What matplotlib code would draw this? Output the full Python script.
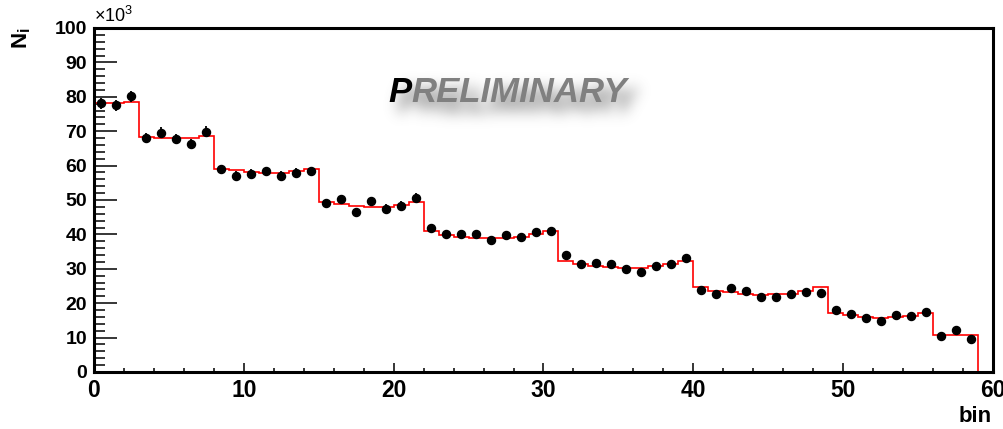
import numpy as np
import matplotlib
matplotlib.use("Agg")
import matplotlib.pyplot as plt
from matplotlib.ticker import MultipleLocator

plt.rcParams['font.family'] = ['Liberation Sans', 'DejaVu Sans']
plt.rcParams['mathtext.fontset'] = 'custom'
plt.rcParams['mathtext.rm'] = 'Liberation Sans'
plt.rcParams['mathtext.bf'] = 'Liberation Sans:bold'

# data points (in units of 10^3), one per bin
bin_centers = np.arange(0.5, 59, 1.0)
counts = [78.1, 77.5, 80.2,
          68.1, 69.6, 67.8, 66.2, 69.9,
          58.9, 57.1, 57.7, 58.4, 57.0, 57.9, 58.4,
          49.0, 50.2, 46.5, 49.8, 47.5, 48.4, 50.7,
          41.9, 40.0, 40.1, 40.1, 38.5, 39.7, 39.2, 40.6, 41.0,
          33.9, 31.5, 31.8, 31.4, 29.9, 29.0, 30.8, 31.4, 33.2,
          23.7, 22.8, 24.5, 23.6, 21.7, 21.9, 22.7, 23.4, 23.0,
          17.9, 16.8, 15.6, 14.8, 16.7, 16.3, 17.4,
          10.4, 12.2, 9.7]
errors = [1.6, 1.6, 1.6,
          1.5, 1.5, 1.5, 1.5, 1.5,
          1.3, 1.3, 1.3, 1.3, 1.3, 1.3, 1.3,
          1.2, 1.2, 1.2, 1.2, 1.2, 1.2, 1.2,
          1.0, 1.0, 1.0, 1.0, 1.0, 1.0, 1.0, 1.0, 1.0,
          0.8, 0.8, 0.8, 0.8, 0.8, 0.8, 0.8, 0.8, 0.8,
          0.7, 0.7, 0.7, 0.7, 0.7, 0.7, 0.7, 0.7, 0.7,
          0.6, 0.6, 0.6, 0.6, 0.6, 0.6, 0.6,
          0.5, 0.5, 0.5]

# fitted histogram (red)
bin_edges = np.arange(0, 60, 1)
fit = [78.2, 78.2, 78.5,
       68.4, 68.1, 68.0, 68.1, 68.6,
       59.1, 58.6, 58.1, 57.9, 57.9, 58.5, 59.1,
       49.5, 48.8, 48.4, 48.1, 48.1, 48.6, 49.5,
       41.0, 39.8, 39.3, 39.0, 38.9, 39.0, 39.3, 40.0, 41.0,
       32.3, 31.4, 30.8, 30.4, 30.2, 30.3, 30.9, 31.5, 32.3,
       24.6, 23.5, 23.2, 22.7, 22.5, 22.6, 22.8, 23.6, 24.6,
       17.2, 16.6, 15.9, 15.7, 15.9, 16.4, 17.2,
       10.8, 10.7, 10.8]

fig = plt.figure(figsize=(10.04, 4.29), dpi=100)
ax = fig.add_axes([94/1004, 57/429, 899/1004, 344/429])

ax.stairs(fit, bin_edges, baseline=0, color='#ff0000', lw=1.2, zorder=2)
ax.errorbar(bin_centers, counts, yerr=errors, fmt='o', color='black',
            ms=5.8, elinewidth=1.3, capsize=0, zorder=3)

ax.set_xlim(0, 60)
ax.set_ylim(0, 100)
ax.xaxis.set_major_locator(MultipleLocator(10))
ax.xaxis.set_minor_locator(MultipleLocator(2))
ax.yaxis.set_major_locator(MultipleLocator(10))
ax.yaxis.set_minor_locator(MultipleLocator(2))
ax.tick_params(axis='both', which='both', direction='in', top=False, right=False, width=1.1)
ax.tick_params(axis='y', which='major', length=16.5, labelsize=14, pad=5)
ax.tick_params(axis='y', which='minor', length=8)
ax.tick_params(axis='x', which='major', length=6.5, labelsize=16.5, pad=5)
ax.tick_params(axis='x', which='minor', length=3.2)
for lab in ax.get_xticklabels() + ax.get_yticklabels():
    lab.set_fontweight('bold')
for s in ax.spines.values():
    s.set_linewidth(2.2)

fig.text(992/1004, 7/429, 'bin', ha='right', va='baseline', fontsize=16, fontweight='bold')
fig.text(22/1004, 1 - 38/429, r'N$_{\mathbf{i}}$', rotation=90, ha='center', va='center',
         fontsize=16, fontweight='bold')
fig.text(94/1004, 1 - 22/429, r'$\times$10$^{3}$', ha='left', va='baseline', fontsize=13)

# PRELIMINARY watermark with soft blurred shadow
wm_x, wm_base = 388, 429 - 102
sw, sh = 360, 100
sfig = plt.figure(figsize=(sw/100, sh/100), dpi=100)
sfig.text(25/sw, 40/sh, 'PRELIMINARY', ha='left', va='baseline', fontsize=25,
          fontweight='bold', style='italic', color='black')
sfig.canvas.draw()
mask = 1.0 - np.asarray(sfig.canvas.buffer_rgba())[:, :, 0] / 255.0
plt.close(sfig)
g = np.arange(-20, 21)
kern = np.exp(-g**2 / (2 * 7.0**2))
kern /= kern.sum()
blur = np.apply_along_axis(lambda r: np.convolve(r, kern, mode='same'), 1, mask)
blur = np.apply_along_axis(lambda c: np.convolve(c, kern, mode='same'), 0, blur)
shadow = np.zeros((sh, sw, 4))
shadow[..., :3] = 0.35
shadow[..., 3] = np.clip(blur * 0.8, 0, 1)
fig.figimage(shadow, xo=wm_x - 25 + 9, yo=wm_base - 40 - 10, zorder=1, origin='upper')

fig.text(wm_x/1004, wm_base/429, 'P', ha='left', va='baseline', fontsize=25,
         fontweight='bold', style='italic', color='black', zorder=5)
fig.text(411/1004, wm_base/429, 'RELIMINARY', ha='left', va='baseline', fontsize=25,
         fontweight='bold', style='italic', color='#808080', zorder=5)

fig.savefig('out.png', dpi=100)
